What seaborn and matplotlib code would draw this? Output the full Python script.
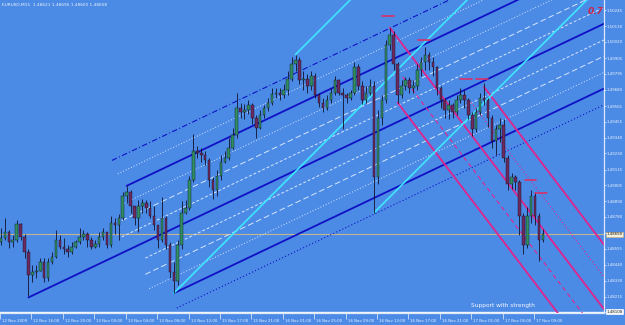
import numpy as np
import pandas as pd
import matplotlib
matplotlib.use("Agg")
import matplotlib.pyplot as plt
import matplotlib.transforms as mtransforms
import seaborn as sns

sns.set_style("dark")
plt.rcParams["font.family"] = ["DejaVu Sans"]

# ---------------- data ----------------
title_text = "EURUSD,M15  1.48621 1.48695 1.48600 1.48658"

first_open = 1.4860
close = [1.4863, 1.4867, 1.4860, 1.4862, 1.4873, 1.4864, 1.4853, 1.4837, 1.4839, 1.4840,
         1.4846, 1.4835, 1.4846, 1.4850, 1.4862, 1.4857, 1.4855, 1.4853, 1.4857, 1.4860,
         1.4864, 1.4866, 1.4862, 1.4857, 1.4859, 1.4864, 1.4867, 1.4858, 1.4874, 1.4872,
         1.4877, 1.4893, 1.4896, 1.4886, 1.4877, 1.4886, 1.4888, 1.4884, 1.4879, 1.4872,
         1.4862, 1.4877, 1.4858, 1.4839, 1.4833, 1.4858, 1.4881, 1.4884, 1.4904, 1.4925,
         1.4923, 1.4922, 1.4918, 1.4904, 1.4897, 1.4907, 1.4917, 1.4920, 1.4927, 1.4936,
         1.4955, 1.4952, 1.4954, 1.4957, 1.4948, 1.4941, 1.4950, 1.4955, 1.4959, 1.4965,
         1.4966, 1.4964, 1.4968, 1.4976, 1.4986, 1.4989, 1.4975, 1.4976, 1.4971, 1.4978,
         1.4964, 1.4959, 1.4955, 1.4961, 1.4966, 1.4975, 1.4966, 1.4964, 1.4962, 1.4966,
         1.4984, 1.4971, 1.4961, 1.4966, 1.4971, 1.4906, 1.4948, 1.4961, 1.5000, 1.5007,
         1.4986, 1.4964, 1.4971, 1.4975, 1.4969, 1.4971, 1.4982, 1.4988, 1.4993, 1.4988,
         1.4984, 1.4969, 1.4961, 1.4954, 1.4957, 1.4952, 1.4961, 1.4964, 1.4961, 1.4950,
         1.4940, 1.4952, 1.4962, 1.4961, 1.4948, 1.4932, 1.4940, 1.4943, 1.4920, 1.4901,
         1.4906, 1.4903, 1.4879, 1.4858, 1.4879, 1.4893, 1.4879, 1.4862, 1.48658]
high = [1.4870, 1.4877, 1.4869, 1.4865, 1.4876, 1.4874, 1.4866, 1.4855, 1.4844, 1.4844,
        1.4849, 1.4849, 1.4849, 1.4853, 1.4869, 1.4865, 1.4863, 1.4858, 1.4860, 1.4862,
        1.4870, 1.4869, 1.4867, 1.4864, 1.4862, 1.4867, 1.4870, 1.4867, 1.4879, 1.4877,
        1.4880, 1.4896, 1.4900, 1.4897, 1.4886, 1.4890, 1.4891, 1.4890, 1.4889, 1.4886,
        1.4872, 1.4892, 1.4879, 1.4860, 1.4846, 1.4862, 1.4889, 1.4890, 1.4907, 1.4937,
        1.4928, 1.4927, 1.4925, 1.4920, 1.4906, 1.4911, 1.4922, 1.4925, 1.4934, 1.4941,
        1.4966, 1.4959, 1.4958, 1.4961, 1.4959, 1.4950, 1.4954, 1.4957, 1.4962, 1.4969,
        1.4969, 1.4969, 1.4972, 1.4981, 1.4991, 1.4993, 1.4991, 1.4981, 1.4979, 1.4981,
        1.4980, 1.4966, 1.4962, 1.4964, 1.4969, 1.4978, 1.4976, 1.4969, 1.4966, 1.4968,
        1.4988, 1.4986, 1.4974, 1.4971, 1.4976, 1.4974, 1.4954, 1.4964, 1.5003, 1.5012,
        1.5010, 1.4988, 1.4975, 1.4977, 1.4977, 1.4975, 1.4986, 1.4991, 1.4998, 1.4995,
        1.4991, 1.4985, 1.4971, 1.4962, 1.4961, 1.4959, 1.4964, 1.4969, 1.4968, 1.4962,
        1.4952, 1.4955, 1.4966, 1.4973, 1.4962, 1.4950, 1.4943, 1.4948, 1.4947, 1.4922,
        1.4909, 1.4908, 1.4904, 1.4881, 1.4885, 1.4897, 1.4896, 1.4881, 1.48695]
low = [1.4858, 1.4862, 1.4856, 1.4857, 1.4860, 1.4862, 1.4849, 1.4822, 1.4832, 1.4835,
       1.4840, 1.4832, 1.4833, 1.4845, 1.4849, 1.4855, 1.4852, 1.4850, 1.4852, 1.4856,
       1.4859, 1.4862, 1.4857, 1.4855, 1.4856, 1.4857, 1.4862, 1.4856, 1.4857, 1.4866,
       1.4862, 1.4876, 1.4888, 1.4881, 1.4872, 1.4867, 1.4881, 1.4881, 1.4877, 1.4869,
       1.4856, 1.4860, 1.4855, 1.4835, 1.4824, 1.4830, 1.4855, 1.4880, 1.4883, 1.4903,
       1.4920, 1.4917, 1.4915, 1.4899, 1.4891, 1.4893, 1.4904, 1.4916, 1.4918, 1.4926,
       1.4934, 1.4948, 1.4947, 1.4951, 1.4944, 1.4934, 1.4940, 1.4948, 1.4953, 1.4957,
       1.4962, 1.4961, 1.4962, 1.4964, 1.4974, 1.4981, 1.4972, 1.4968, 1.4966, 1.4968,
       1.4962, 1.4956, 1.4952, 1.4954, 1.4959, 1.4964, 1.4964, 1.4940, 1.4959, 1.4961,
       1.4964, 1.4968, 1.4958, 1.4959, 1.4964, 1.4881, 1.4901, 1.4943, 1.4959, 1.4996,
       1.4982, 1.4959, 1.4962, 1.4968, 1.4966, 1.4966, 1.4968, 1.4978, 1.4982, 1.4982,
       1.4978, 1.4964, 1.4955, 1.4948, 1.4947, 1.4948, 1.4950, 1.4959, 1.4955, 1.4947,
       1.4935, 1.4938, 1.4950, 1.4957, 1.4942, 1.4927, 1.4922, 1.4931, 1.4917, 1.4897,
       1.4898, 1.4897, 1.4865, 1.4852, 1.4856, 1.4874, 1.4872, 1.4847, 1.4860]

x_tick_labels = ["12 Nov 2009", "12 Nov 16:00", "12 Nov 20:00", "13 Nov 00:00",
                 "13 Nov 04:00", "13 Nov 08:00", "13 Nov 12:00", "15 Nov 17:00",
                 "15 Nov 21:00", "16 Nov 01:00", "16 Nov 05:00", "16 Nov 09:00",
                 "16 Nov 13:00", "16 Nov 17:00", "16 Nov 21:00", "17 Nov 01:00",
                 "17 Nov 05:00", "17 Nov 09:00"]
y_tick_values = [1.50245, 1.50130, 1.50020, 1.49905, 1.49795, 1.49680, 1.49565,
                 1.49455, 1.49340, 1.49230, 1.49115, 1.49005, 1.48890, 1.48780,
                 1.48665, 1.48555, 1.48440, 1.48330, 1.48215, 1.48105]

bid_price = 1.48658
support_price = 1.48108
support_text = "Support with strength"
level_text = "0.7"

# pitchfork pivots: (15-minute bar index, price)
blue_pivots = [(14.5, 1.4821), (64.5, 1.4900), (88.5, 1.4824)]
pink_pivots = [(198.5, 1.5012), (202.5, 1.4959), (246.5, 1.4970)]
# 1x1 angle lines
gann_anchors = [(88.5, 1.4824), (150.5, 1.4993), (190.5, 1.4881)]
gann_rise_per_bar = 0.000139
# short resistance ticks
fractal_bars = [197.5, 216.1, 237.4, 245.3, 270.2, 275.6]
fractal_prices = [1.5020, 1.5003, 1.4976, 1.4976, 1.4904, 1.4895]

# ---------------- style ----------------
BG = "#4b8be6"
TXT = "#eef3fb"
DARK_BLUE = "#1010c4"
WHITE_L = "#d8e6ff"
CYAN = "#3fe6ff"
PINK = "#e0248e"
X_MIN, X_MAX = 0.5, 307.6
Y_MIN, Y_MAX = 1.48100, 1.50316
FS = 2.8

fig = plt.figure(figsize=(6.25, 3.25), dpi=100)
fig.patch.set_facecolor(BG)
ax = fig.add_axes([0, 12 / 325, 604 / 625, 313 / 325])
ax.set_facecolor(BG)


def seg(x0, y0, x1, y1, color, lw, ls="-", z=2):
    df = pd.DataFrame({"x": [x0, x1], "y": [y0, y1]})
    sns.lineplot(data=df, x="x", y="y", ax=ax, color=color, linewidth=lw,
                 linestyle=ls, estimator=None, sort=False, zorder=z)


def pitchfork(piv):
    (x1, y1), (x2, y2), (x3, y3) = piv
    mx, my = (x2 + x3) / 2, (y2 + y3) / 2
    s = (my - y1) / (mx - x1)
    d = (y2 - (y1 + s * (x2 - x1))) / 4.0
    return lambda x, L: y1 + s * (x - x1) + L * d


# blue pitchfork and its quarter lines
bf = pitchfork(blue_pivots)
blue_levels = [
    (0, blue_pivots[0][0], DARK_BLUE, 1.3, "-"),
    (4, blue_pivots[1][0], DARK_BLUE, 1.3, "-"),
    (-4, blue_pivots[2][0], DARK_BLUE, 1.3, "-"),
    (1, 62, WHITE_L, 0.7, (0, (3, 2))),
    (2, 62, WHITE_L, 0.7, (0, (6, 3))),
    (3, 62, WHITE_L, 0.7, (0, (1, 2))),
    (5, 60, WHITE_L, 0.7, (0, (1, 2))),
    (6, 57, DARK_BLUE, 0.8, (0, (5, 2, 1, 2))),
    (-1, 74, WHITE_L, 0.7, (0, (3, 2))),
    (-2, 74, WHITE_L, 0.7, (0, (6, 3))),
    (-3, 76, WHITE_L, 0.7, (0, (1, 2))),
    (-5, 90, DARK_BLUE, 0.8, (0, (1, 2))),
]
for L, xs, c, lw, ls in blue_levels:
    seg(xs, bf(xs, L), X_MAX, bf(X_MAX, L), c, lw, ls)

# pink pitchfork
pf = pitchfork(pink_pivots)
pink_levels = [
    (0, pink_pivots[0][0], PINK, 1.3, "-"),
    (4, pink_pivots[1][0], PINK, 1.3, "-"),
    (-4, pink_pivots[2][0], PINK, 1.3, "-"),
    (2, 205, PINK, 0.8, (0, (4, 3))),
    (-2, 240, PINK, 0.8, (0, (1, 2))),
]
for L, xs, c, lw, ls in pink_levels:
    seg(xs, pf(xs, L), X_MAX, pf(X_MAX, L), c, lw, ls)

# cyan angle lines
for gx, gy in gann_anchors:
    seg(gx, gy, X_MAX, gy + gann_rise_per_bar * (X_MAX - gx), CYAN, 1.2)

# bid line and support line
ax.axhline(bid_price, color="#c8b48c", lw=0.8, zorder=1)
ax.axhline(support_price, color="#f2f5fb", lw=1.0, zorder=1)

# candles (each drawn candle = two 15-minute bars)
n = len(close)
opens = [first_open] + close[:-1]
xs = np.arange(n) * 2 + 0.5
o = np.array(opens); c = np.array(close); h = np.array(high); l = np.array(low)
ax.vlines(xs, l, h, color="#101028", lw=0.6, zorder=4)
up = c >= o
body_h = np.where(np.abs(c - o) < 0.00003, 0.00003, c - o)
ax.bar(xs[up], body_h[up], bottom=o[up], width=1.3, color="#2f8f60",
       edgecolor="#101028", linewidth=0.3, zorder=5)
ax.bar(xs[~up], body_h[~up], bottom=o[~up], width=1.3, color="#6e2a5e",
       edgecolor="#101028", linewidth=0.3, zorder=5)

# resistance ticks
for fx, fy in zip(fractal_bars, fractal_prices):
    seg(fx - 3, fy, fx + 3, fy, "#d8306a", 1.2, "-", 6)

# axes
ax.set_xlim(X_MIN, X_MAX)
ax.set_ylim(Y_MIN, Y_MAX)
ax.set_xlabel("")
ax.set_ylabel("")
ax.grid(False)
for side in ["top", "left"]:
    ax.spines[side].set_visible(False)
for side in ["right", "bottom"]:
    ax.spines[side].set_visible(True)
    ax.spines[side].set_color("#dfe8f6")
    ax.spines[side].set_linewidth(0.9)

ax.yaxis.tick_right()
ax.set_yticks(y_tick_values)
ax.set_yticklabels([f"{v:.5f}" for v in y_tick_values])
ax.tick_params(axis="y", right=True, left=False, length=1.5, width=0.5, pad=0.6,
               labelsize=FS, colors=TXT)
ax.set_xticks(np.arange(len(x_tick_labels)) * 16)
ax.set_xticklabels(x_tick_labels)
ax.tick_params(axis="x", bottom=True, length=4, width=0.5, pad=0.6,
               labelsize=FS, colors=TXT, direction="out")
offset = mtransforms.ScaledTranslation(2 / 100, 0, fig.dpi_scale_trans)
for lab in ax.get_xticklabels():
    lab.set_ha("left")
    lab.set_transform(lab.get_transform() + offset)

# price boxes on the right scale
ax.text(1.0045, bid_price, f"{bid_price:.5f}", transform=ax.get_yaxis_transform(),
        ha="left", va="center", fontsize=FS, color="#202020",
        bbox=dict(boxstyle="square,pad=0.12", fc="#f3efd9", ec="#c8b48c", lw=0.5),
        zorder=10, clip_on=False)
ax.text(1.0045, support_price, f"{support_price:.5f}", transform=ax.get_yaxis_transform(),
        ha="left", va="center", fontsize=FS, color="#202020",
        bbox=dict(boxstyle="square,pad=0.12", fc="#f6f6f6", ec="#ffffff", lw=0.5),
        zorder=10, clip_on=False)

# texts
ax.text(2 / 604, 1 - 5 / 313, title_text, transform=ax.transAxes, ha="left",
        va="center", fontsize=3.1, color=TXT)
ax.text(596 / 604, 1 - 11 / 313, level_text, transform=ax.transAxes, ha="center",
        va="center", fontsize=6.5, color="#c8284e", fontweight="bold", style="italic")
ax.text(503 / 604, 1 - 306 / 313, support_text, transform=ax.transAxes, ha="center",
        va="center", fontsize=4.2, color="#f4f6fb")

fig.savefig("out.png", dpi=100, facecolor=BG)
